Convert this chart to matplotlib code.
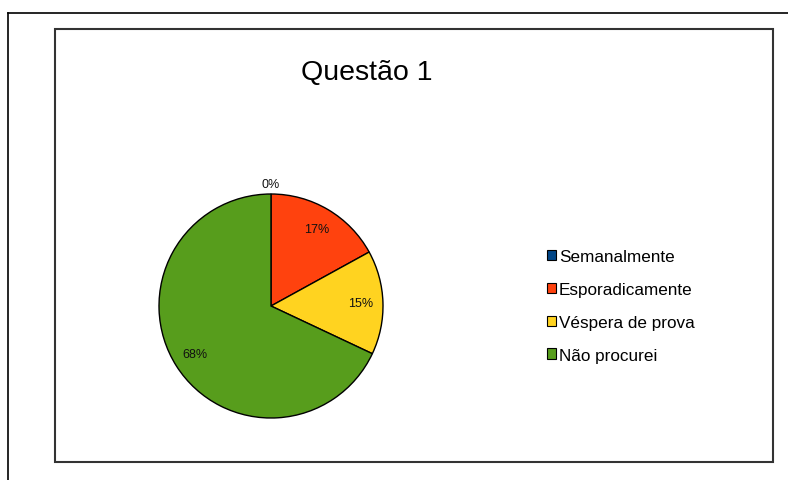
import matplotlib.pyplot as plt
from matplotlib.patches import Patch, Rectangle
from matplotlib.lines import Line2D
import numpy as np

plt.rcParams['font.family'] = ['Liberation Sans', 'DejaVu Sans']

# dados do gráfico
categorias = ['Semanalmente', 'Esporadicamente', 'Véspera de prova', 'Não procurei']
valores = [0, 17, 15, 68]
cores = ['#004586', '#ff420e', '#ffd320', '#579d1c']
titulo = 'Questão 1'

W, H = 788, 481
fig = plt.figure(figsize=(W / 100, H / 100), dpi=100)

# moldura externa (linha superior e lateral esquerda)
fig.add_artist(Line2D([8 / W, 1], [1 - 14 / H, 1 - 14 / H], color='black', lw=1.2,
                      transform=fig.transFigure))
fig.add_artist(Line2D([8 / W, 8 / W], [0, 1 - 14 / H], color='black', lw=1.2,
                      transform=fig.transFigure))

# caixa do gráfico
fig.add_artist(Rectangle((55 / W, 1 - 463 / H), (773 - 55) / W, (463 - 30) / H,
                         fill=False, edgecolor='#333333', lw=1.5,
                         transform=fig.transFigure))

# pizza
cx, cy, r = 271, 307, 112
ax = fig.add_axes([(cx - r) / W, 1 - (cy + r) / H, 2 * r / W, 2 * r / H])
wedges, textos, autotextos = ax.pie(
    valores, colors=cores, startangle=90, counterclock=False,
    autopct='%1.0f%%', pctdistance=0.8,
    wedgeprops=dict(edgecolor='black', linewidth=1.0),
    textprops=dict(fontsize=9, color='#111111'))
ax.set_xlim(-1, 1)
ax.set_ylim(-1, 1)
ax.set_aspect('equal')
ax.axis('off')

# rótulo de fatia vazia fica fora da pizza
for w, t, v in zip(wedges, autotextos, valores):
    if v == 0:
        ang = np.deg2rad((w.theta1 + w.theta2) / 2)
        t.set_position((1.09 * np.cos(ang), 1.09 * np.sin(ang)))
        t.set_clip_on(False)

fig.text(367 / W, 1 - 73 / H, titulo, fontsize=20.5, ha='center', va='center')

handles = [Patch(facecolor=c, edgecolor='black', lw=0.8) for c in cores]
fig.legend(handles, categorias, loc='center left', bbox_to_anchor=(547 / W, 1 - 307 / H),
           frameon=False, fontsize=12.3, handlelength=0.55, handleheight=0.55,
           handletextpad=0.15, labelspacing=1.04, borderpad=0, borderaxespad=0)

fig.savefig('out.png', dpi=100)
